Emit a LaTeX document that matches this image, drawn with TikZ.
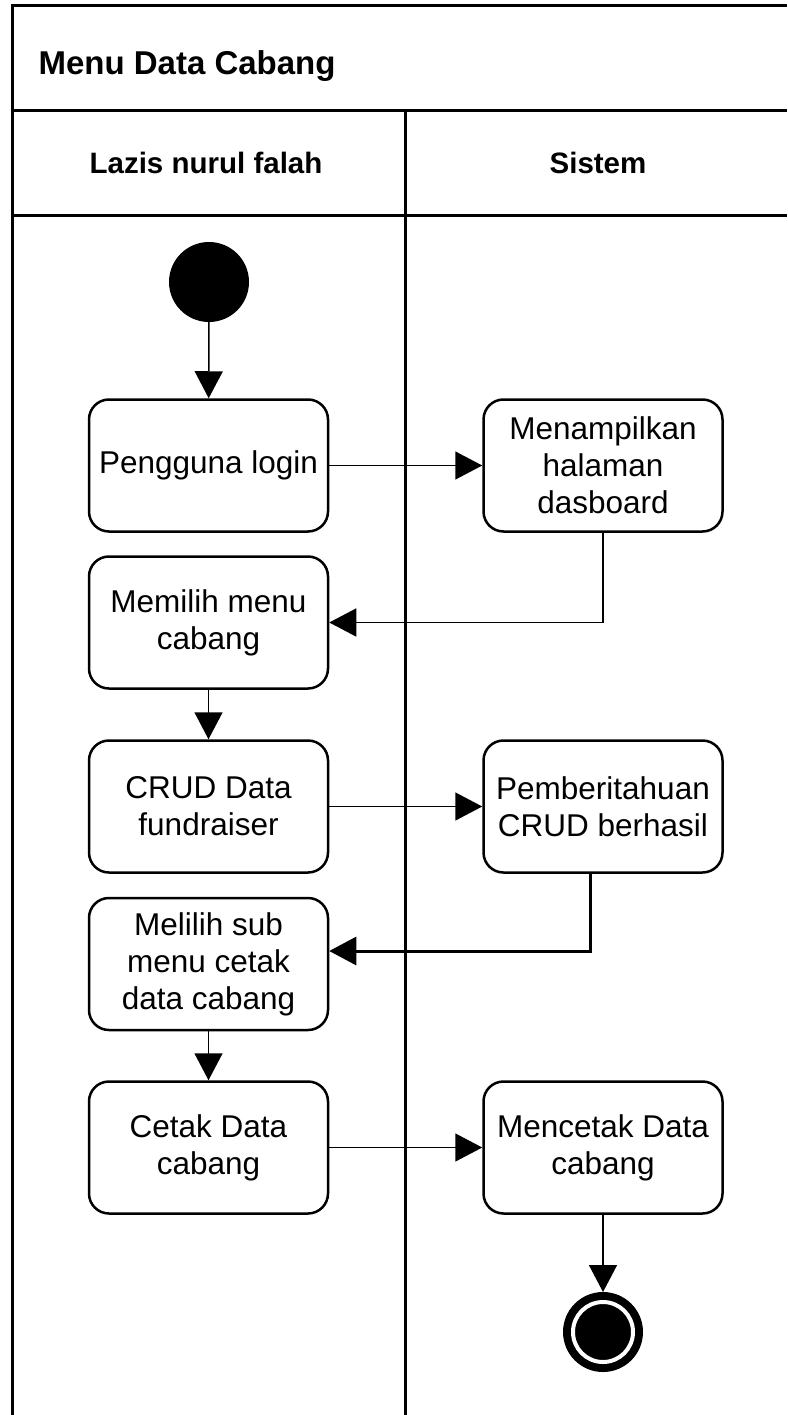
\documentclass[tikz,border=0pt]{standalone}
\usepackage{fontspec}
\setmainfont{Liberation Sans}
\usetikzlibrary{arrows.meta}

\begin{document}
\begin{tikzpicture}[x=1pt, y=-1pt, >={Triangle[length=27pt, width=28pt]},
	every node/.style={font=\fontsize{31.5}{37}\selectfont},
	aksi/.style={draw, line width=2.5pt, rounded corners=20pt, minimum width=239pt, minimum height=132pt, align=center, inner sep=2pt},
	alur/.style={->, line width=1.5pt},
	lajur/.style={line width=3pt},
	kepala/.style={anchor=base, font=\fontsize{29.5}{34}\selectfont\bfseries}]
	\useasboundingbox (0,0) rectangle (787,1415);
	\draw[lajur] (787,6) -- (12,6) -- (12,1415);
	\draw[lajur] (12,111) -- (787,111);
	\draw[lajur] (12,216) -- (787,216);
	\draw[lajur] (405,111) -- (405,1415);
	\node[anchor=base west, font=\fontsize{33}{38}\selectfont\bfseries] (judul) at (35,75) {Menu Data Cabang};
	\node[kepala] (pelaku) at (206,174) {Lazis nurul falah};
	\node[kepala] (sistem) at (598,174) {Sistem};
	\node[circle, fill, minimum size=80pt, inner sep=0pt] (mulai) at (209,282) {};
	\node[aksi] (login) at (208.5,465.5) {Pengguna login};
	\node[aksi] (dasbor) at (603,465.5) {Menampilkan\\halaman\\dasboard};
	\node[aksi] (menu) at (208.5,622.5) {Memilih menu\\cabang};
	\node[aksi] (crud) at (208.5,806.5) {CRUD Data\\fundraiser};
	\node[aksi] (notif) at (603,806.5) {Pemberitahuan\\CRUD berhasil};
	\node[aksi] (submenu) at (208.5,964) {Melilih sub\\menu cetak\\data cabang};
	\node[aksi] (cetak) at (208.5,1147.5) {Cetak Data\\cabang};
	\node[aksi] (mencetak) at (603,1147.5) {Mencetak Data\\cabang};
	\node[circle, fill, minimum size=80pt, inner sep=0pt, outer sep=0pt,
		path picture={\draw[white, line width=4pt] (path picture bounding box.center) circle (30pt);}] (selesai) at (603,1332) {};
	\draw[alur] (mulai) -- (login);
	\draw[alur] (login) -- (dasbor);
	\draw[alur] (dasbor.south) |- (menu.east);
	\draw[alur] (menu) -- (crud);
	\draw[alur] (crud) -- (notif);
	\draw[alur, line width=3pt] ([xshift=-13pt]notif.south) |- ([yshift=13pt]submenu.east);
	\draw[alur] (submenu) -- (cetak);
	\draw[alur] (cetak) -- (mencetak);
	\draw[alur] (mencetak) -- (selesai);
\end{tikzpicture}
\end{document}
